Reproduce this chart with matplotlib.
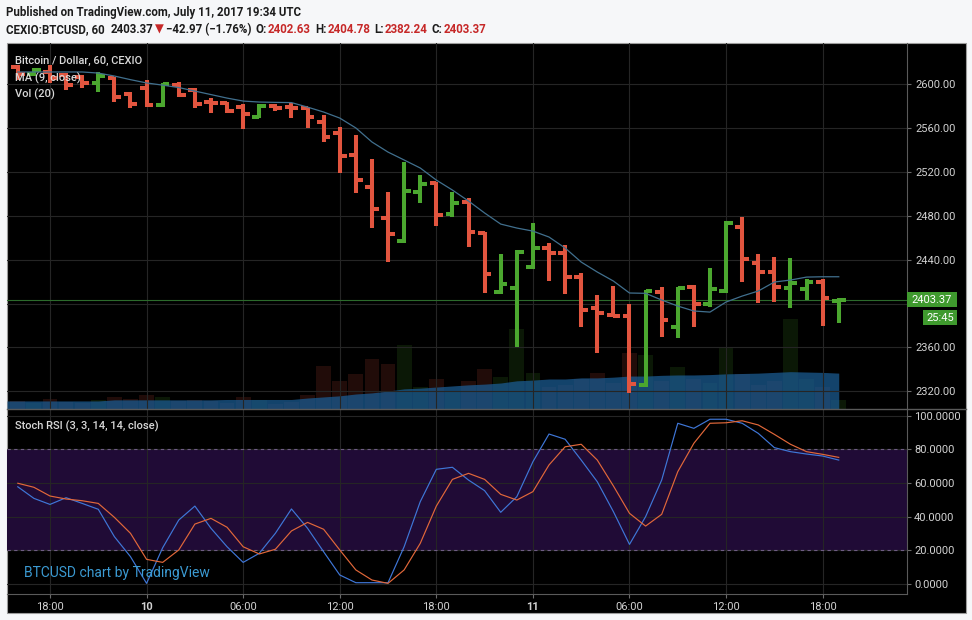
import matplotlib
matplotlib.use('Agg')
import matplotlib.pyplot as plt
import numpy as np
import pandas as pd
from matplotlib.patches import Rectangle
from matplotlib.lines import Line2D

plt.rcParams['font.family'] = ['Roboto', 'DejaVu Sans']

# ---------------- data ----------------
bar_start = '2017-07-09 16:00'
n_bars = 52

opens = [2615.8, 2609.0, 2611.2, 2608.2, 2606.7, 2600.6, 2605.2, 2590.6, 2596.0, 2580.9,
         2599.0, 2594.5, 2583.3, 2582.4, 2579.3, 2570.2, 2580.2, 2579.0, 2577.8, 2565.6,
         2555.1, 2535.3, 2506.4, 2477.6, 2457.0, 2501.9, 2510.1, 2481.6, 2492.8, 2464.0,
         2410.8, 2413.8, 2433.0, 2450.3, 2446.3, 2424.4, 2395.6, 2389.5, 2388.6, 2325.7,
         2410.7, 2378.8, 2414.7, 2399.3, 2411.6, 2470.0, 2437.2, 2429.0, 2413.8, 2412.9,
         2419.9, 2402.63]
highs = [2617.3, 2615.0, 2617.3, 2609.8, 2608.2, 2611.2, 2606.7, 2593.0, 2603.6, 2600.6,
         2602.0, 2596.0, 2587.0, 2583.9, 2581.5, 2581.5, 2581.5, 2582.4, 2579.3, 2571.8,
         2561.1, 2553.5, 2531.4, 2501.9, 2529.2, 2517.1, 2511.0, 2501.9, 2495.9, 2465.5,
         2444.8, 2448.7, 2473.1, 2454.8, 2453.3, 2428.1, 2407.7, 2416.0, 2399.5, 2412.3,
         2415.3, 2415.3, 2416.8, 2432.0, 2475.5, 2478.5, 2445.1, 2442.1, 2441.2, 2422.0,
         2422.0, 2404.78]
lows = [2603.6, 2607.0, 2600.6, 2594.5, 2596.0, 2593.0, 2583.9, 2577.8, 2579.3, 2579.3,
        2588.4, 2577.8, 2573.3, 2573.3, 2558.7, 2568.7, 2575.4, 2569.3, 2559.6, 2547.4,
        2518.6, 2500.7, 2468.5, 2438.1, 2454.8, 2491.8, 2470.6, 2479.1, 2451.2, 2409.3,
        2408.7, 2360.0, 2431.1, 2420.8, 2408.6, 2378.3, 2354.6, 2387.4, 2318.7, 2324.2,
        2369.2, 2368.3, 2378.8, 2397.0, 2409.8, 2419.9, 2400.7, 2401.6, 2395.6, 2403.2,
        2379.4, 2382.24]
closes = [2609.0, 2613.0, 2605.2, 2599.1, 2600.6, 2607.6, 2588.4, 2581.5, 2580.9, 2599.7,
          2590.0, 2581.5, 2582.4, 2575.4, 2572.4, 2580.2, 2577.8, 2578.4, 2570.2, 2552.0,
          2534.4, 2512.5, 2486.1, 2463.0, 2502.5, 2508.9, 2480.7, 2491.3, 2465.5, 2426.6,
          2417.8, 2447.2, 2450.3, 2446.3, 2424.4, 2394.1, 2391.0, 2388.6, 2326.6, 2411.4,
          2385.0, 2414.4, 2399.5, 2413.2, 2473.1, 2440.2, 2429.0, 2415.3, 2418.4, 2419.9,
          2404.7, 2403.37]
ma9 = [2611.0, 2611.0, 2611.0, 2611.0, 2611.0, 2610.0, 2607.3, 2604.0, 2601.0, 2599.0,
       2596.8, 2593.6, 2590.4, 2587.2, 2584.5, 2583.6, 2583.3, 2583.1, 2579.0, 2574.5,
       2569.0, 2560.0, 2547.2, 2538.0, 2530.8, 2523.5, 2512.5, 2503.4, 2493.4, 2482.5,
       2472.4, 2468.8, 2466.0, 2460.6, 2450.6, 2437.8, 2428.7, 2420.5, 2409.6, 2409.3,
       2403.2, 2397.7, 2393.2, 2392.2, 2401.4, 2406.8, 2411.4, 2419.6, 2421.4, 2424.1,
       2424.4, 2424.4]
volume = [22, 16, 27, 19, 16, 25, 33, 27, 38, 33,
          22, 25, 22, 16, 33, 25, 14, 19, 38, 117,
          76, 96, 137, 123, 175, 60, 82, 49, 76, 109,
          87, 218, 98, 60, 66, 82, 98, 71, 153, 147,
          76, 115, 82, 71, 169, 96, 66, 76, 246, 82,
          60, 25]
vol_ma20 = [22, 22, 22, 22, 22, 22, 25, 25, 25, 25,
            25, 25, 25, 26, 26, 26, 26, 26, 30, 33,
            36, 41, 44, 49, 55, 57, 60, 63, 66, 68,
            71, 77, 79, 82, 82, 85, 85, 87, 90, 90,
            92, 93, 93, 94, 96, 97, 98, 100, 102, 101,
            100, 98]
stoch_k = [57.7, 50.8, 47.2, 51.2, 47.8, 44.3, 28.0, 16.1, 0.2, 21.4,
           37.9, 46.2, 33.0, 22.0, 12.7, 18.1, 30.0, 44.5, 33.0, 19.0,
           5.2, 0.6, 0.6, 0.6, 22.0, 48.8, 68.1, 69.3, 61.7, 55.4,
           42.5, 51.8, 72.6, 89.1, 86.0, 73.6, 60.7, 42.9, 23.4, 39.9,
           61.7, 95.5, 92.5, 97.9, 97.9, 95.5, 89.5, 81.0, 78.6, 77.2,
           76.0, 73.6]
stoch_d = [59.8, 57.4, 52.2, 50.4, 49.4, 47.8, 39.5, 30.0, 14.5, 12.7,
           20.1, 35.5, 38.9, 33.6, 22.0, 17.7, 20.5, 31.4, 36.5, 32.4,
           20.1, 8.2, 2.2, 0.2, 8.2, 24.0, 46.2, 62.1, 65.7, 62.1,
           53.2, 49.8, 54.8, 70.7, 81.5, 83.0, 73.6, 58.2, 41.9, 34.3,
           41.3, 66.7, 83.6, 95.5, 95.8, 97.0, 94.5, 88.9, 83.0, 78.6,
           77.0, 75.2]

price_grid = [2320, 2360, 2400, 2440, 2480, 2520, 2560, 2600]
price_hidden = [2400]
rsi_ticks = [0, 20, 40, 60, 80, 100]
time_ticks = ['2017-07-09 18:00', '2017-07-10 00:00', '2017-07-10 06:00',
              '2017-07-10 12:00', '2017-07-10 18:00', '2017-07-11 00:00',
              '2017-07-11 06:00', '2017-07-11 12:00', '2017-07-11 18:00']
time_labels = ['18:00', '10', '06:00', '12:00', '18:00', '11', '06:00', '12:00', '18:00']
day_labels = ['10', '11']
last_price = 2403.37
countdown = '25:45'

header_1 = 'Published on TradingView.com, July 11, 2017 19:34 UTC'
symbol = 'CEXIO:BTCUSD, 60'
change = '\u221242.97 (\u22121.76%)'
ohlc_last = [('O:', '2402.63'), ('H:', '2404.78'), ('L:', '2382.24'), ('C:', '2403.37')]

# ---------------- styling ----------------
UP = '#4ba72f'
DOWN = '#e2553f'
GRID = '#252525'
AXTXT = '#d2d2d2'
TICKC = '#6a6a6a'

W, H, DPI = 972, 620, 100
fig = plt.figure(figsize=(W / DPI, H / DPI), dpi=DPI)
fig.patch.set_facecolor('#f6f7f9')


def fx(px):
    return px / W


def fy(py):
    return 1 - py / H


L, R = 7, 907
T_MAIN, B_MAIN, B_RSI = 43, 409, 594
RIGHT_EDGE, BOTTOM_EDGE = 966, 613

fig.add_artist(Rectangle((fx(L), fy(BOTTOM_EDGE)), fx(RIGHT_EDGE) - fx(L),
                         fy(T_MAIN) - fy(BOTTOM_EDGE), transform=fig.transFigure,
                         facecolor='black', edgecolor='#9c9c9c', lw=0.8, zorder=-10))

t0 = pd.Timestamp('2017-07-09 18:00')
times = pd.date_range(bar_start, periods=n_bars, freq='h')
x = ((times - t0) / pd.Timedelta(hours=1)).to_numpy(dtype=float)
xt = ((pd.to_datetime(time_ticks) - t0) / pd.Timedelta(hours=1)).to_numpy(dtype=float)
XLIM = (-2.671, 53.24)

o = np.array(opens); hgh = np.array(highs); low = np.array(lows); c = np.array(closes)
up = c >= o
cols = np.where(up, UP, DOWN)

# ---------------- main price pane ----------------
ax = fig.add_axes([fx(L), fy(B_MAIN), fx(R) - fx(L), fy(T_MAIN) - fy(B_MAIN)])
axv = ax.twinx()
ax.set_zorder(axv.get_zorder() + 1)
ax.patch.set_visible(False)
axv.patch.set_visible(False)

# volume overlay (MA area continues to the left edge of the pane)
axv.bar(x, volume, width=0.92, color=cols, alpha=0.15, lw=0)
x_area = np.r_[XLIM[0], x]
v_area = np.r_[vol_ma20[0], vol_ma20]
axv.fill_between(x_area, 0, v_area, color='#1b5b92', alpha=0.74, lw=0)
axv.set_ylim(0, 1000)
axv.set_xlim(*XLIM)
axv.set_yticks([])
for s in axv.spines.values():
    s.set_visible(False)

# OHLC bars
tick = 0.42
lw_bar = 2.9
ax.vlines(x, low, hgh, colors=cols, lw=lw_bar, zorder=4)
ax.hlines(o, x - tick, x, colors=cols, lw=lw_bar, zorder=4)
ax.hlines(c, x, x + tick, colors=cols, lw=lw_bar, zorder=4)
ax.plot(x, ma9, color='#41708e', lw=0.9, zorder=5)
ax.axhline(last_price, color='#2c6a2c', lw=0.8, zorder=2)

ax.set_xlim(*XLIM)
ax.set_ylim(2303.9, 2637.4)
ax.yaxis.tick_right()
ax.set_yticks(price_grid)
ax.set_yticklabels(['' if v in price_hidden else f'{v:.2f}' for v in price_grid])
ax.set_xticks(xt)
ax.tick_params(axis='x', length=0, labelbottom=False)
ax.tick_params(axis='y', direction='out', length=3, width=0.8, color=TICKC,
               labelcolor=AXTXT, labelsize=8, pad=3, left=False, right=True,
               labelleft=False, labelright=True)
ax.grid(True, color=GRID, lw=0.8, zorder=1)
for k, s in ax.spines.items():
    s.set_visible(k == 'right')
ax.spines['right'].set_color('#5a5a5a')

# ---------------- Stoch RSI pane ----------------
axr = fig.add_axes([fx(L), fy(B_RSI), fx(R) - fx(L), fy(B_MAIN) - fy(B_RSI)])
axr.patch.set_visible(False)
axr.axhspan(20, 80, color='#200b36', lw=0, zorder=0.5)
axr.axhline(80, color='#6e5c84', lw=0.8, ls=(0, (3, 3)), zorder=1.6)
axr.axhline(20, color='#6e5c84', lw=0.8, ls=(0, (3, 3)), zorder=1.6)
axr.plot(x, stoch_k, color='#3f77d8', lw=0.85, zorder=3)
axr.plot(x, stoch_d, color='#e2683a', lw=0.85, zorder=3)
axr.set_xlim(*XLIM)
axr.set_ylim(-6.13, 104.0)
axr.yaxis.tick_right()
axr.set_yticks(rsi_ticks)
axr.set_yticklabels([f'{v:.4f}' for v in rsi_ticks])
axr.set_xticks(xt)
axr.set_xticklabels(time_labels)
for lab in axr.get_xticklabels():
    if lab.get_text() in day_labels:
        lab.set_fontweight('bold')
axr.tick_params(axis='y', direction='out', length=3, width=0.8, color=TICKC,
                labelcolor=AXTXT, labelsize=8, pad=2, left=False, right=True,
                labelleft=False, labelright=True)
axr.tick_params(axis='x', direction='out', length=3, width=0.8, color=TICKC,
                labelcolor=AXTXT, labelsize=8, pad=2.5)
axr.grid(True, color=GRID, lw=0.8, zorder=1)
for k, s in axr.spines.items():
    s.set_visible(k in ('right', 'bottom'))
    s.set_color('#5a5a5a')

# pane separator across full width
fig.add_artist(Line2D([fx(L), fx(RIGHT_EDGE)], [fy(B_MAIN), fy(B_MAIN)],
                      transform=fig.transFigure, color='#5a5a5a', lw=1.0))

# ---------------- texts ----------------
pane_kw = dict(color='#d8d8d8', fontsize=8, fontweight='medium', ha='left', va='center')
fig.text(fx(15), fy(61), 'Bitcoin / Dollar, 60, CEXIO', **pane_kw)
fig.text(fx(15), fy(78), 'MA (9, close)', **pane_kw)
fig.text(fx(15), fy(94.5), 'Vol (20)', **pane_kw)
fig.text(fx(15), fy(426.5), 'Stoch RSI (3, 3, 14, 14, close)', **pane_kw)
fig.text(fx(24), fy(573), 'BTCUSD chart by TradingView', color='#3b9ad2',
         fontsize=10, ha='left', va='center')

# header
fig.text(fx(6), fy(12.5), header_1, color='#1c1c1c', fontsize=8.3, fontweight='semibold',
         ha='left', va='center')

fig.canvas.draw()
renderer = fig.canvas.get_renderer()
RED = '#c62828'
DARK = '#1c1c1c'
parts = [(symbol, DARK, 6), (f'{last_price:.2f}', DARK, 2), ('\u25bc', RED, 2), (change, DARK, 4)]
for lab, val in ohlc_last:
    parts += [(lab, DARK, 1), (val, RED, 4)]
xcur = 6
for s, col, gap in parts:
    t = fig.text(fx(xcur), fy(29.5), s, color=col, fontsize=8.3, fontweight='semibold',
                 ha='left', va='center')
    bb = t.get_window_extent(renderer=renderer)
    xcur = bb.x1 + gap

# last price label boxes
yc = H - ax.transData.transform((0, last_price))[1]
box_h = 15
fig.add_artist(Rectangle((fx(907), fy(yc + box_h / 2)), fx(957) - fx(907), box_h / H,
                         transform=fig.transFigure, facecolor='#3f9a2e', lw=0, zorder=10))
fig.text(fx(932), fy(yc), f'{last_price:.2f}', color='white', fontsize=8,
         ha='center', va='center', zorder=11)
yc2 = yc + 18
fig.add_artist(Rectangle((fx(923), fy(yc2 + box_h / 2)), fx(957) - fx(923), box_h / H,
                         transform=fig.transFigure, facecolor='#3f9a2e', lw=0, zorder=10))
fig.text(fx(940), fy(yc2), countdown, color='white', fontsize=8,
         ha='center', va='center', zorder=11)

fig.savefig('out.png', dpi=DPI, facecolor=fig.get_facecolor())
